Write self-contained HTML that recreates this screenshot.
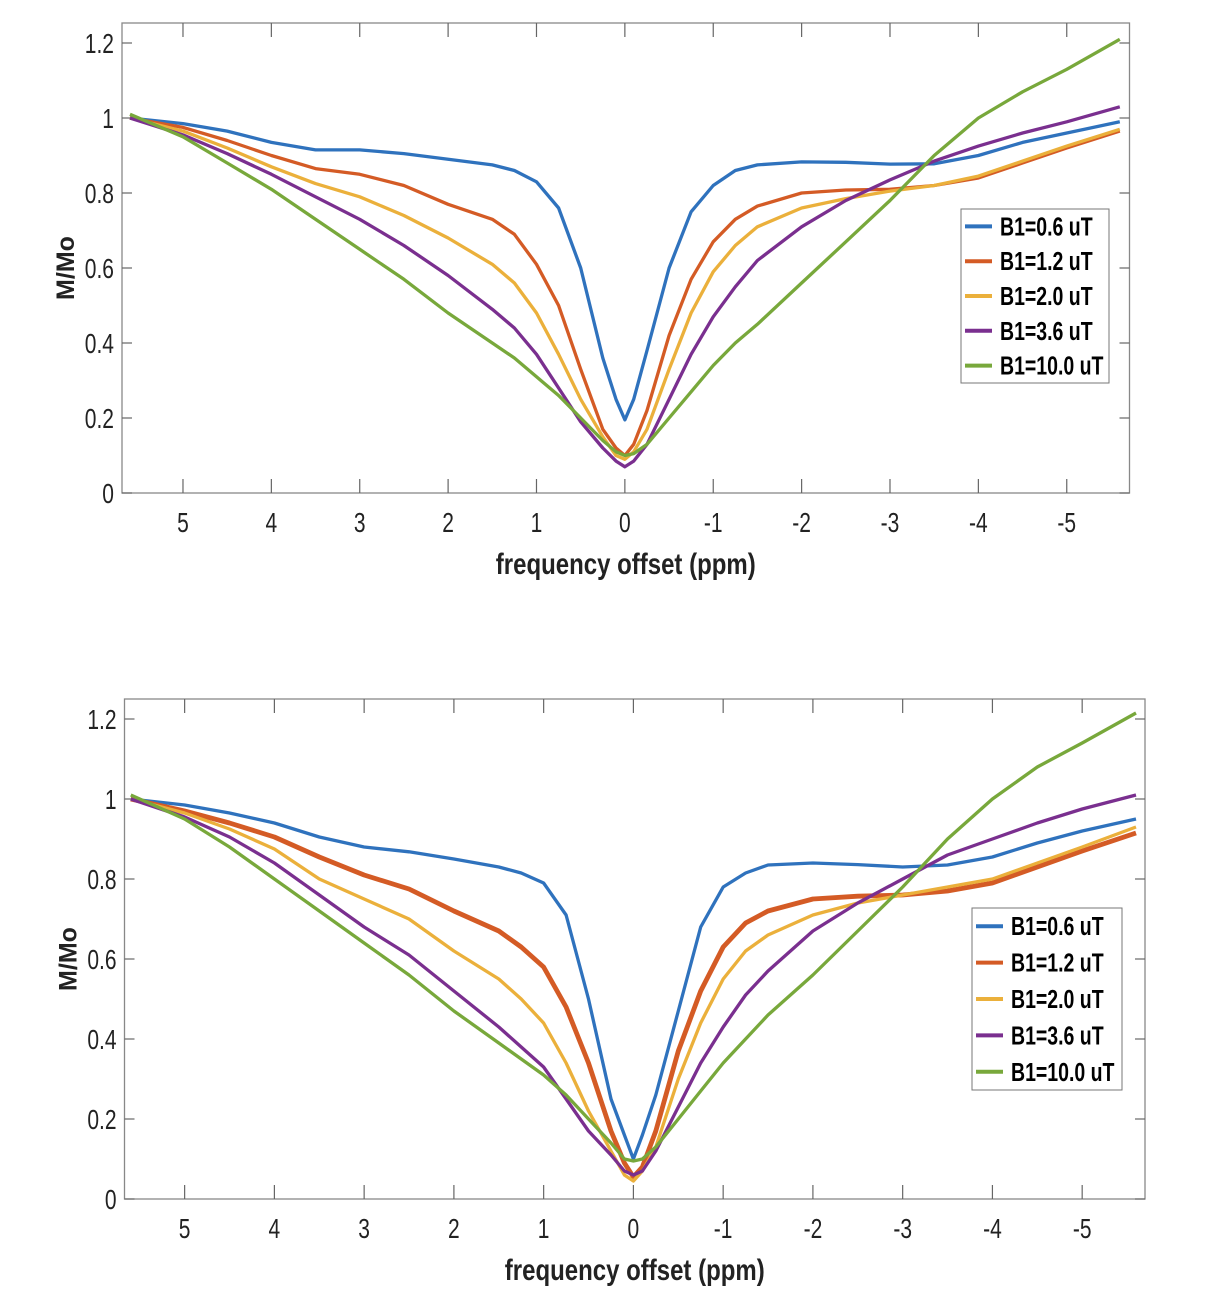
<!DOCTYPE html>
<html><head><meta charset="utf-8"><style>
body{margin:0;background:#fff;width:1206px;height:1302px;overflow:hidden}
svg{display:block;font-family:"Liberation Sans",sans-serif}
</style></head><body>
<svg id="svg" width="1206" height="1302"></svg>
<script>
const xs=[5.6,5,4.5,4,3.5,3,2.5,2,1.5,1.25,1,0.75,0.5,0.25,0.1,0,-0.1,-0.25,-0.5,-0.75,-1,-1.25,-1.5,-2,-2.5,-3,-3.5,-4,-4.5,-5,-5.6];
const seriesNames=["B1=0.6 uT","B1=1.2 uT","B1=2.0 uT","B1=3.6 uT","B1=10.0 uT"];
const colors=["#2f72bd","#d45b25","#ebb03b","#7a2f8f","#78a83b"];
const xTicks=[5,4,3,2,1,0,-1,-2,-3,-4,-5];
const yTicks=[0,0.2,0.4,0.6,0.8,1,1.2];
const topBlue=[1.0,0.985,0.965,0.935,0.915,0.915,0.905,0.89,0.875,0.86,0.83,0.76,0.6,0.36,0.25,0.195,0.25,0.38,0.6,0.75,0.82,0.86,0.875,0.883,0.882,0.877,0.878,0.9,0.935,0.96,0.99];
const topOrange=[1.0,0.975,0.94,0.9,0.865,0.85,0.82,0.77,0.73,0.69,0.61,0.5,0.33,0.17,0.12,0.1,0.13,0.22,0.42,0.57,0.67,0.73,0.765,0.8,0.808,0.81,0.82,0.84,0.88,0.92,0.965];
const topYellow=[1.0,0.965,0.92,0.87,0.825,0.79,0.74,0.68,0.61,0.56,0.48,0.37,0.25,0.15,0.1,0.09,0.11,0.17,0.33,0.48,0.59,0.66,0.71,0.76,0.785,0.805,0.82,0.845,0.885,0.925,0.97];
const topPurple=[1.0,0.955,0.905,0.85,0.79,0.73,0.66,0.58,0.49,0.44,0.37,0.28,0.19,0.12,0.085,0.07,0.085,0.13,0.25,0.37,0.47,0.55,0.62,0.71,0.78,0.835,0.885,0.925,0.96,0.99,1.03];
const topGreen=[1.01,0.95,0.88,0.81,0.73,0.65,0.57,0.48,0.4,0.36,0.31,0.26,0.2,0.14,0.11,0.1,0.105,0.13,0.2,0.27,0.34,0.4,0.45,0.56,0.67,0.78,0.9,1.0,1.07,1.13,1.21];
const botBlue=[1.0,0.985,0.965,0.94,0.905,0.88,0.868,0.85,0.83,0.815,0.79,0.71,0.5,0.25,0.16,0.1,0.16,0.26,0.47,0.68,0.78,0.815,0.835,0.84,0.836,0.83,0.835,0.855,0.89,0.92,0.95];
const botOrange=[1.0,0.97,0.94,0.905,0.855,0.81,0.775,0.72,0.67,0.63,0.58,0.48,0.34,0.17,0.09,0.055,0.08,0.17,0.37,0.52,0.63,0.69,0.72,0.75,0.757,0.76,0.77,0.79,0.83,0.87,0.915];
const botYellow=[1.0,0.965,0.925,0.875,0.8,0.75,0.7,0.62,0.55,0.5,0.44,0.34,0.22,0.12,0.06,0.045,0.07,0.13,0.3,0.44,0.55,0.62,0.66,0.71,0.74,0.76,0.78,0.8,0.84,0.88,0.93];
const botPurple=[1.0,0.955,0.905,0.84,0.76,0.68,0.61,0.52,0.43,0.38,0.33,0.25,0.17,0.11,0.07,0.06,0.07,0.12,0.23,0.34,0.43,0.51,0.57,0.67,0.74,0.8,0.86,0.9,0.94,0.975,1.01];
const botGreen=[1.01,0.95,0.88,0.8,0.72,0.64,0.56,0.47,0.39,0.35,0.31,0.26,0.2,0.14,0.1,0.095,0.1,0.13,0.2,0.27,0.34,0.4,0.46,0.56,0.67,0.78,0.9,1.0,1.08,1.14,1.215];

const NS="http://www.w3.org/2000/svg";
const svg=document.getElementById('svg');
function mk(tag,attrs,parent){const e=document.createElementNS(NS,tag);for(const k in attrs)e.setAttribute(k,attrs[k]);(parent||svg).appendChild(e);return e;}
function txt(s,attrs,parent){const e=mk('text',attrs,parent);e.textContent=s;return e;}

function drawChart(prefix,L,R,T,B,xmin,xmax,ymaxAx,series,widths,leg){
  const g=mk('g',{});
  
  
  const sx=v=>L+(xmin-v)/(xmin-xmax)*(R-L);
  const sy=v=>B-v/ymaxAx*(B-T);
  const box=mk('rect',{x:L,y:T,width:R-L,height:B-T,fill:'none',stroke:'#888','stroke-width':1.3},g);
  
  
  xTicks.forEach(t=>{const x=sx(t);
    mk('line',{x1:x,x2:x,y1:B,y2:B-14,stroke:'#666','stroke-width':1.2},g);
    mk('line',{x1:x,x2:x,y1:T,y2:T+14,stroke:'#666','stroke-width':1.2},g);
    const e=txt(String(t),{x:x,y:B+39,'font-size':28,'text-anchor':'middle',fill:'#222',transform:`translate(${x},0) scale(0.75,1) translate(${-x},0)`},g);
    
    
  });
  yTicks.forEach(t=>{const y=sy(t);
    mk('line',{x1:L,x2:L+10,y1:y,y2:y,stroke:'#666','stroke-width':1.2},g);
    mk('line',{x1:R,x2:R-10,y1:y,y2:y,stroke:'#666','stroke-width':1.2},g);
    const lx=L-8;
    const e=txt(String(t),{x:lx,y:y+10,'font-size':28,'text-anchor':'end',fill:'#222',transform:`translate(${lx},0) scale(0.75,1) translate(${-lx},0)`},g);
    
    
  });
  series.forEach((arr,i)=>{
    const p=mk('polyline',{points:arr.map((v,j)=>sx(xs[j]).toFixed(1)+','+sy(v).toFixed(1)).join(' '),fill:'none',stroke:colors[i],'stroke-width':widths[i],'stroke-linejoin':'round'},g);
    
    
  });
  const cx=(L+R)/2;
  const xt=txt('frequency offset (ppm)',{x:cx,y:B+81,'font-size':30,'font-weight':'bold','text-anchor':'middle',fill:'#222',transform:`translate(${cx},0) scale(0.8,1) translate(${-cx},0)`},g);
  
  
  const cy=(T+B)/2+10;
  const yt=txt('M/Mo',{x:0,y:0,'font-size':25,'font-weight':'bold','text-anchor':'middle',fill:'#222',transform:`translate(${L-48},${cy}) rotate(-90)`},g);
  
  
  const lg=mk('g',{},g);
  
  
  mk('rect',{x:leg.x,y:leg.y,width:leg.w,height:leg.h,fill:'#fff',stroke:'#777','stroke-width':1},lg);
  seriesNames.forEach((n,i)=>{const y=leg.y+leg.h/5*(i+0.5);
    mk('line',{x1:leg.x+4,x2:leg.x+31,y1:y,y2:y,stroke:colors[i],'stroke-width':4},lg);
    const tx=leg.x+39;
    const e=txt(n,{x:tx,y:y+9,'font-size':26,'font-weight':'bold',fill:'#000',transform:`translate(${tx},0) scale(0.75,1) translate(${-tx},0)`},lg);
    
    
  });
}
drawChart('top',122,1129.5,23,493,5.69,-5.71,1.2*470/(493-43),[topBlue,topOrange,topYellow,topPurple,topGreen],[3.3,3.3,3.3,3.3,3.3],{x:961,y:209,w:148,h:174});
drawChart('bottom',124.5,1145,699,1199,5.67,-5.70,1.2*500/(1199-719),[botBlue,botOrange,botYellow,botPurple,botGreen],[3.3,4.8,3.3,3.3,3.3],{x:972,y:908,w:150,h:182});
</script>
</body></html>
